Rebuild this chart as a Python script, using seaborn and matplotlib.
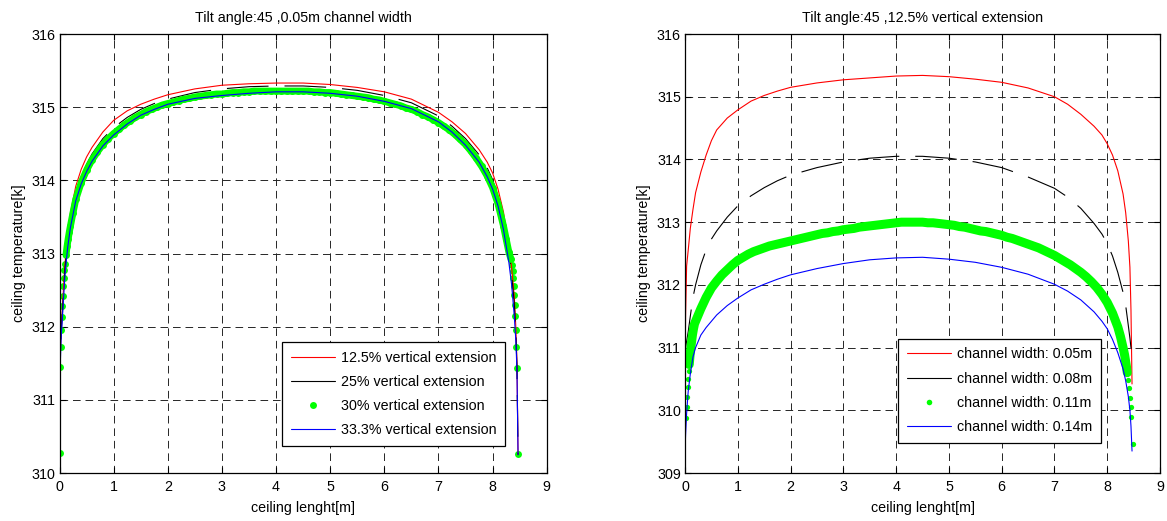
import numpy as np
import matplotlib
matplotlib.use("Agg")
import matplotlib.pyplot as plt
from matplotlib.lines import Line2D
import seaborn as sns

# ---------------------------------------------------------------------------
# Ceiling temperature profiles [K] along the ceiling length [m]
# ---------------------------------------------------------------------------

# nodes used for the line series (both panels)
x_line = [0.0, 0.01, 0.03, 0.06, 0.1, 0.15, 0.2, 0.3, 0.4, 0.5, 0.6, 0.8, 1.0,
          1.25, 1.5, 1.75, 2.0, 2.5, 3.0, 3.5, 4.0, 4.5, 5.0, 5.5, 6.0, 6.5,
          7.0, 7.25, 7.5, 7.75, 7.9, 8.0, 8.1, 8.2, 8.3, 8.35, 8.4, 8.43,
          8.45, 8.47]

# left panel: tilt angle 45, channel width 0.05 m, varying vertical extension
t_ext_125 = [310.25, 311.50, 311.95, 312.35, 312.85, 313.25, 313.55, 313.92,
             314.15, 314.32, 314.45, 314.66, 314.82, 314.95, 315.04, 315.11,
             315.17, 315.25, 315.30, 315.32, 315.33, 315.33, 315.31, 315.27,
             315.21, 315.11, 314.93, 314.80, 314.64, 314.42, 314.25, 314.10,
             313.88, 313.57, 313.12, 312.82, 312.42, 311.98, 311.50, 310.25]
t_ext_25 = [310.25, 311.45, 311.90, 312.28, 312.78, 313.17, 313.45, 313.82,
            314.05, 314.22, 314.36, 314.57, 314.72, 314.86, 314.97, 315.05,
            315.11, 315.20, 315.25, 315.28, 315.29, 315.29, 315.27, 315.23,
            315.16, 315.06, 314.88, 314.74, 314.57, 314.35, 314.17, 314.01,
            313.77, 313.45, 313.02, 312.72, 312.32, 311.90, 311.45, 310.25]
t_ext_333 = [310.25, 311.40, 311.85, 312.20, 312.70, 313.08, 313.35, 313.72,
             313.95, 314.12, 314.26, 314.47, 314.62, 314.77, 314.89, 314.97,
             315.04, 315.12, 315.16, 315.19, 315.21, 315.21, 315.19, 315.15,
             315.08, 314.98, 314.80, 314.66, 314.48, 314.25, 314.05, 313.88,
             313.65, 313.33, 312.88, 312.58, 312.15, 311.80, 311.40, 310.25]

# 30% vertical extension: mesh nodes, fine near both walls
x_ext_30 = ([0.0, 0.01, 0.02, 0.03, 0.04, 0.05, 0.06, 0.07, 0.08, 0.09, 0.1,
             0.12, 0.14, 0.16, 0.18, 0.2, 0.25]
            + list(np.round(np.linspace(0.3, 8.2, 80), 2))
            + [8.25, 8.3, 8.34, 8.36, 8.37, 8.38, 8.39, 8.40, 8.41, 8.42,
               8.43, 8.44, 8.45, 8.47])
t_ext_30 = ([310.27, 311.45, 311.72, 311.95, 312.13, 312.28, 312.42, 312.55,
             312.66, 312.77, 312.86, 312.98, 313.10, 313.20, 313.29, 313.37,
             313.56]
            + [313.74, 313.97, 314.14, 314.28, 314.39, 314.49, 314.57, 314.64, 314.70, 314.76,
               314.81, 314.86, 314.90, 314.94, 314.97, 315.00, 315.03, 315.05, 315.07, 315.09,
               315.11, 315.12, 315.14, 315.15, 315.16, 315.17, 315.18, 315.18, 315.19, 315.20,
               315.20, 315.21, 315.21, 315.22, 315.22, 315.22, 315.22, 315.22, 315.22, 315.22,
               315.22, 315.22, 315.22, 315.22, 315.21, 315.21, 315.20, 315.20, 315.19, 315.18,
               315.17, 315.16, 315.15, 315.14, 315.13, 315.11, 315.10, 315.08, 315.06, 315.04,
               315.02, 314.99, 314.97, 314.94, 314.90, 314.87, 314.83, 314.79, 314.74, 314.69,
               314.63, 314.56, 314.49, 314.40, 314.30, 314.19, 314.06, 313.90, 313.68, 313.38]
            + [313.20, 313.02, 312.92, 312.84, 312.76, 312.66, 312.56, 312.43,
               312.29, 312.14, 311.95, 311.72, 311.43, 310.26])

# right panel: tilt angle 45, 12.5% vertical extension, varying channel width
t_w005 = [310.50, 311.50, 312.30, 312.55, 312.90, 313.20, 313.47, 313.80,
          314.07, 314.30, 314.47, 314.66, 314.79, 314.93, 315.02, 315.09,
          315.15, 315.22, 315.27, 315.30, 315.33, 315.34, 315.32, 315.28,
          315.23, 315.14, 315.00, 314.88, 314.72, 314.53, 314.39, 314.25,
          314.07, 313.82, 313.45, 313.15, 312.70, 312.28, 311.60, 310.42]
t_w008 = [310.95, 311.00, 311.10, 311.25, 311.50, 311.80, 312.00, 312.32,
          312.56, 312.73, 312.86, 313.08, 313.26, 313.42, 313.55, 313.66,
          313.75, 313.87, 313.96, 314.02, 314.05, 314.05, 314.02, 313.96,
          313.87, 313.72, 313.54, 313.40, 313.22, 312.98, 312.81, 312.66,
          312.46, 312.20, 311.88, 311.67, 311.35, 311.15, 311.00, 310.95]
t_w014 = [309.35, 309.60, 309.95, 310.30, 310.58, 310.85, 311.00, 311.20,
          311.32, 311.42, 311.52, 311.67, 311.79, 311.92, 312.01, 312.09,
          312.16, 312.26, 312.34, 312.40, 312.43, 312.44, 312.41, 312.36,
          312.28, 312.17, 312.01, 311.90, 311.76, 311.57, 311.42, 311.30,
          311.13, 310.92, 310.66, 310.47, 310.22, 310.00, 309.75, 309.35]

# 0.11 m channel width: mesh nodes, fine near both walls
x_w011 = ([0.02, 0.03, 0.04, 0.05, 0.06, 0.07, 0.08, 0.09, 0.10, 0.12, 0.14,
           0.16, 0.18]
          + list(np.round(np.linspace(0.2, 8.2, 81), 2))
          + [8.25, 8.3, 8.33, 8.36, 8.38, 8.40, 8.42, 8.43, 8.45, 8.46, 8.48])
t_w011 = ([309.88, 310.06, 310.21, 310.37, 310.50, 310.62, 310.73, 310.83,
           310.92, 311.07, 311.20, 311.30, 311.38]
          + [311.42, 311.62, 311.80, 311.95, 312.06, 312.16, 312.24, 312.32, 312.39, 312.44,
             312.49, 312.53, 312.56, 312.59, 312.62, 312.64, 312.66, 312.68, 312.70, 312.72,
             312.74, 312.76, 312.78, 312.80, 312.82, 312.83, 312.85, 312.86, 312.88, 312.89,
             312.90, 312.92, 312.93, 312.94, 312.95, 312.96, 312.97, 312.98, 312.99, 313.00,
             313.00, 313.00, 313.00, 313.00, 312.99, 312.99, 312.98, 312.97, 312.96, 312.95,
             312.93, 312.92, 312.90, 312.88, 312.86, 312.85, 312.83, 312.81, 312.79, 312.76,
             312.74, 312.71, 312.68, 312.65, 312.62, 312.59, 312.55, 312.51, 312.47, 312.42,
             312.37, 312.32, 312.26, 312.20, 312.13, 312.05, 311.96, 311.85, 311.72, 311.55,
             311.33]
          + [311.18, 311.00, 310.88, 310.72, 310.60, 310.48, 310.36, 310.20,
             310.05, 309.90, 309.46])

labels_left = ["12.5% vertical extension", "25% vertical extension",
               "30% vertical extension", "33.3% vertical extension"]
labels_right = ["channel width: 0.05m", "channel width: 0.08m",
                "channel width: 0.11m", "channel width: 0.14m"]
title_left = "Tilt angle:45 ,0.05m channel width"
title_right = "Tilt angle:45 ,12.5% vertical extension"
x_ticks = list(range(0, 10))
y_ticks_left = list(range(310, 317))
y_ticks_right = list(range(309, 317))

# ---------------------------------------------------------------------------
sns.set_theme(style="ticks")
plt.rcParams.update({
    "font.family": ["Liberation Sans", "DejaVu Sans"],
    "font.size": 10.3,
    "axes.titlesize": 10.3,
    "axes.labelsize": 10.3,
    "xtick.labelsize": 10.3,
    "ytick.labelsize": 10.3,
    "legend.fontsize": 10.3,
    "lines.scale_dashes": False,
    "axes.edgecolor": "black",
    "axes.linewidth": 0.9,
    "axes.labelcolor": "black",
    "text.color": "black",
    "xtick.color": "black",
    "ytick.color": "black",
    "xtick.direction": "in",
    "ytick.direction": "in",
    "xtick.top": True,
    "ytick.right": True,
    "xtick.major.size": 4,
    "ytick.major.size": 4,
    "xtick.major.width": 0.8,
    "ytick.major.width": 0.8,
    "xtick.major.pad": 5,
    "ytick.major.pad": 3,
})

RED, BLACK, GREEN, BLUE = "#ff0000", "#000000", "#00ff00", "#0000ff"
LW = 0.8
BLACK_DASH = (0, (30, 11.5))

fig = plt.figure(figsize=(11.67, 5.21), dpi=100)
ax_l = fig.add_axes([0.051, 0.0921, 0.4175, 0.8426])
ax_r = fig.add_axes([0.587, 0.0921, 0.407, 0.8426])


def line(ax, x, y, color, **kw):
    sns.lineplot(x=x, y=y, ax=ax, color=color, estimator=None, sort=False,
                 legend=False, **kw)


def style_axes(ax, yticks, title):
    ax.set_xlim(0, 9)
    ax.set_ylim(yticks[0], yticks[-1])
    ax.set_xticks(x_ticks)
    ax.set_yticks(yticks)
    ax.grid(True, color="#262626", linestyle=(0, (5.5, 3.5)), linewidth=0.7)
    ax.set_axisbelow(True)
    ax.set_title(title, pad=9)
    ax.set_xlabel("ceiling lenght[m]", labelpad=5)
    ax.set_ylabel("ceiling temperature[k]", labelpad=4)


def add_legend(ax, labels, anchor, ms):
    handles = [Line2D([], [], color=RED, lw=LW),
               Line2D([], [], color=BLACK, lw=LW),
               Line2D([], [], color=GREEN, marker="o", ls="none", ms=ms,
                      markeredgewidth=0),
               Line2D([], [], color=BLUE, lw=LW)]
    leg = ax.legend(handles, labels, loc="lower right", bbox_to_anchor=anchor,
                    borderaxespad=0, frameon=True, fancybox=False,
                    edgecolor="black", framealpha=1, handlelength=3.1,
                    handletextpad=0.4, labelspacing=0.72, borderpad=0.6,
                    numpoints=1)
    leg.get_frame().set_linewidth(0.9)


# left panel
line(ax_l, x_line, t_ext_125, RED, linewidth=LW)
line(ax_l, x_line, t_ext_25, BLACK, linewidth=LW, linestyle=BLACK_DASH)
band_l = slice(11, 100)
line(ax_l, x_ext_30[band_l], t_ext_30[band_l], GREEN, linewidth=5.0,
     solid_capstyle="round")
sns.scatterplot(x=x_ext_30, y=t_ext_30, ax=ax_l, color=GREEN, s=5.0 ** 2,
                linewidth=0, legend=False)
line(ax_l, x_line, t_ext_333, BLUE, linewidth=LW)
style_axes(ax_l, y_ticks_left, title_left)
add_legend(ax_l, labels_left, (0.915, 0.0615), 5.0)

# right panel
line(ax_r, x_line, t_w005, RED, linewidth=LW)
line(ax_r, x_line, t_w008, BLACK, linewidth=LW, linestyle=BLACK_DASH)
band_r = slice(6, len(x_w011) - 6)
line(ax_r, x_w011[band_r], t_w011[band_r], GREEN, linewidth=6.5,
     solid_capstyle="round")
sns.scatterplot(x=x_w011, y=t_w011, ax=ax_r, color=GREEN, s=3.8 ** 2,
                linewidth=0, legend=False)
line(ax_r, x_line, t_w014, BLUE, linewidth=LW)
style_axes(ax_r, y_ticks_right, title_right)
add_legend(ax_r, labels_right, (0.875, 0.069), 4.0)

fig.savefig("out.png", dpi=100)
